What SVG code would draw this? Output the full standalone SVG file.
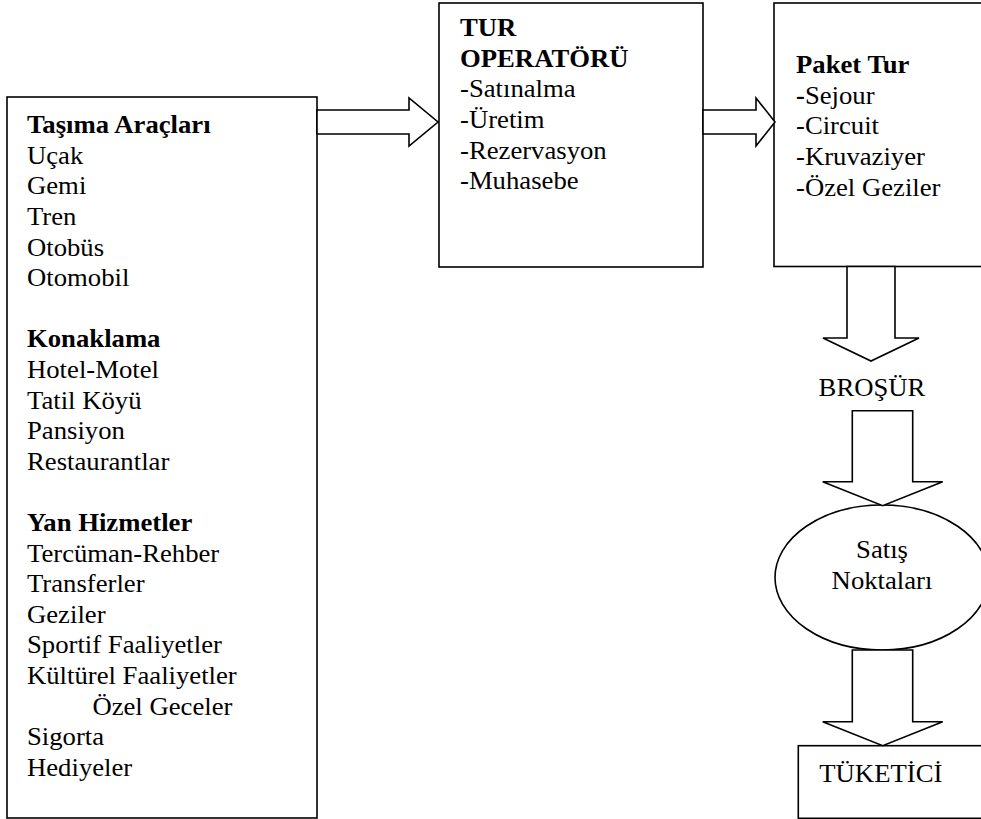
<svg xmlns="http://www.w3.org/2000/svg" width="981" height="819" viewBox="0 0 981 819">
<style>
.box{fill:#fff;stroke:#000;stroke-width:1.6}
.arr{fill:#fff;stroke:#000;stroke-width:1.6;stroke-linejoin:miter}
.t{font-family:'Liberation Serif','Times New Roman','DejaVu Serif',serif;font-size:24.5px;fill:#000}
.b{font-weight:bold}
.c{text-anchor:middle}
</style>
<rect width="981" height="819" fill="#fff"/>
<g id="kaynaklar">
<rect class="box" x="7" y="97" width="310" height="721"/>
<g class="t" font-family="Liberation Serif, Times New Roman, serif" transform="translate(27,0) scale(1.09,1)">
<text class="b" x="0" y="133.3">Taşıma Araçları</text>
<text x="0" y="163.9">Uçak</text>
<text x="0" y="194.5">Gemi</text>
<text x="0" y="225.1">Tren</text>
<text x="0" y="255.7">Otobüs</text>
<text x="0" y="286.3">Otomobil</text>
<text class="b" x="0" y="347.5">Konaklama</text>
<text x="0" y="378.1">Hotel-Motel</text>
<text x="0" y="408.7">Tatil Köyü</text>
<text x="0" y="439.3">Pansiyon</text>
<text x="0" y="469.9">Restaurantlar</text>
<text class="b" x="0" y="531.1">Yan Hizmetler</text>
<text x="0" y="561.7">Tercüman-Rehber</text>
<text x="0" y="592.3">Transferler</text>
<text x="0" y="622.9">Geziler</text>
<text x="0" y="653.5">Sportif Faaliyetler</text>
<text x="0" y="684.1">Kültürel Faaliyetler</text>
<text x="60" y="714.7">Özel Geceler</text>
<text x="0" y="745.3">Sigorta</text>
<text x="0" y="775.9">Hediyeler</text>
</g>
</g>
<g id="tur-operatoru">
<rect class="box" x="439" y="3" width="264" height="264"/>
<g class="t" font-family="Liberation Serif, Times New Roman, serif" transform="translate(460,0) scale(1.09,1)">
<text class="b" x="0" y="36.3">TUR</text>
<text class="b" x="0" y="66.9">OPERATÖRÜ</text>
<text x="0" y="97.5">-Satınalma</text>
<text x="0" y="128.1">-Üretim</text>
<text x="0" y="158.7">-Rezervasyon</text>
<text x="0" y="189.3">-Muhasebe</text>
</g>
</g>
<g id="paket-tur">
<rect class="box" x="774" y="3" width="220" height="263.5"/>
<g class="t" font-family="Liberation Serif, Times New Roman, serif" transform="translate(796,0) scale(1.09,1)">
<text class="b" x="0" y="73.3">Paket Tur</text>
<text x="0" y="103.9"><tspan class="b">-</tspan>Sejour</text>
<text x="0" y="134.5">-Circuit</text>
<text x="0" y="165.1">-Kruvaziyer</text>
<text x="0" y="195.7">-Özel Geziler</text>
</g>
</g>
<g id="brosur" class="t" font-family="Liberation Serif, Times New Roman, serif">
<text class="c" transform="translate(872,396) scale(1.09,1)" x="0" y="0">BROŞÜR</text>
</g>
<g id="satis-noktalari">
<ellipse class="box" cx="882" cy="577.5" rx="107" ry="72.5"/>
<g class="t" font-family="Liberation Serif, Times New Roman, serif">
<text class="c" transform="translate(882,558) scale(1.09,1)" x="0" y="0">Satış</text>
<text class="c" transform="translate(882,589.3) scale(1.09,1)" x="0" y="0">Noktaları</text>
</g>
</g>
<g id="tuketici">
<rect class="box" x="798.3" y="745.7" width="200" height="72.6"/>
<g class="t" font-family="Liberation Serif, Times New Roman, serif">
<text transform="translate(819.3,781.7) scale(1.09,1)" x="0" y="0">TÜKETİCİ</text>
</g>
</g>
<g id="connectors">
<polygon class="arr" points="317,110 409,110 409,98 438,122 409,146 409,134 317,134"/>
<polygon class="arr" points="703,110 756,110 756,98 775,122 756,146 756,134 703,134"/>
<polygon class="arr" points="847,266.5 847,338 823,338 871,361 919,338 895,338 895,266.5"/>
<polygon class="arr" points="852.3,410.7 852.3,481.7 822.7,481.7 882.7,505.7 942.7,481.7 912.7,481.7 912.7,410.7"/>
<polygon class="arr" points="852.3,650 852.3,721.7 822.7,721.7 882.7,745.7 942.7,721.7 912.7,721.7 912.7,650"/>
</g>
</svg>
